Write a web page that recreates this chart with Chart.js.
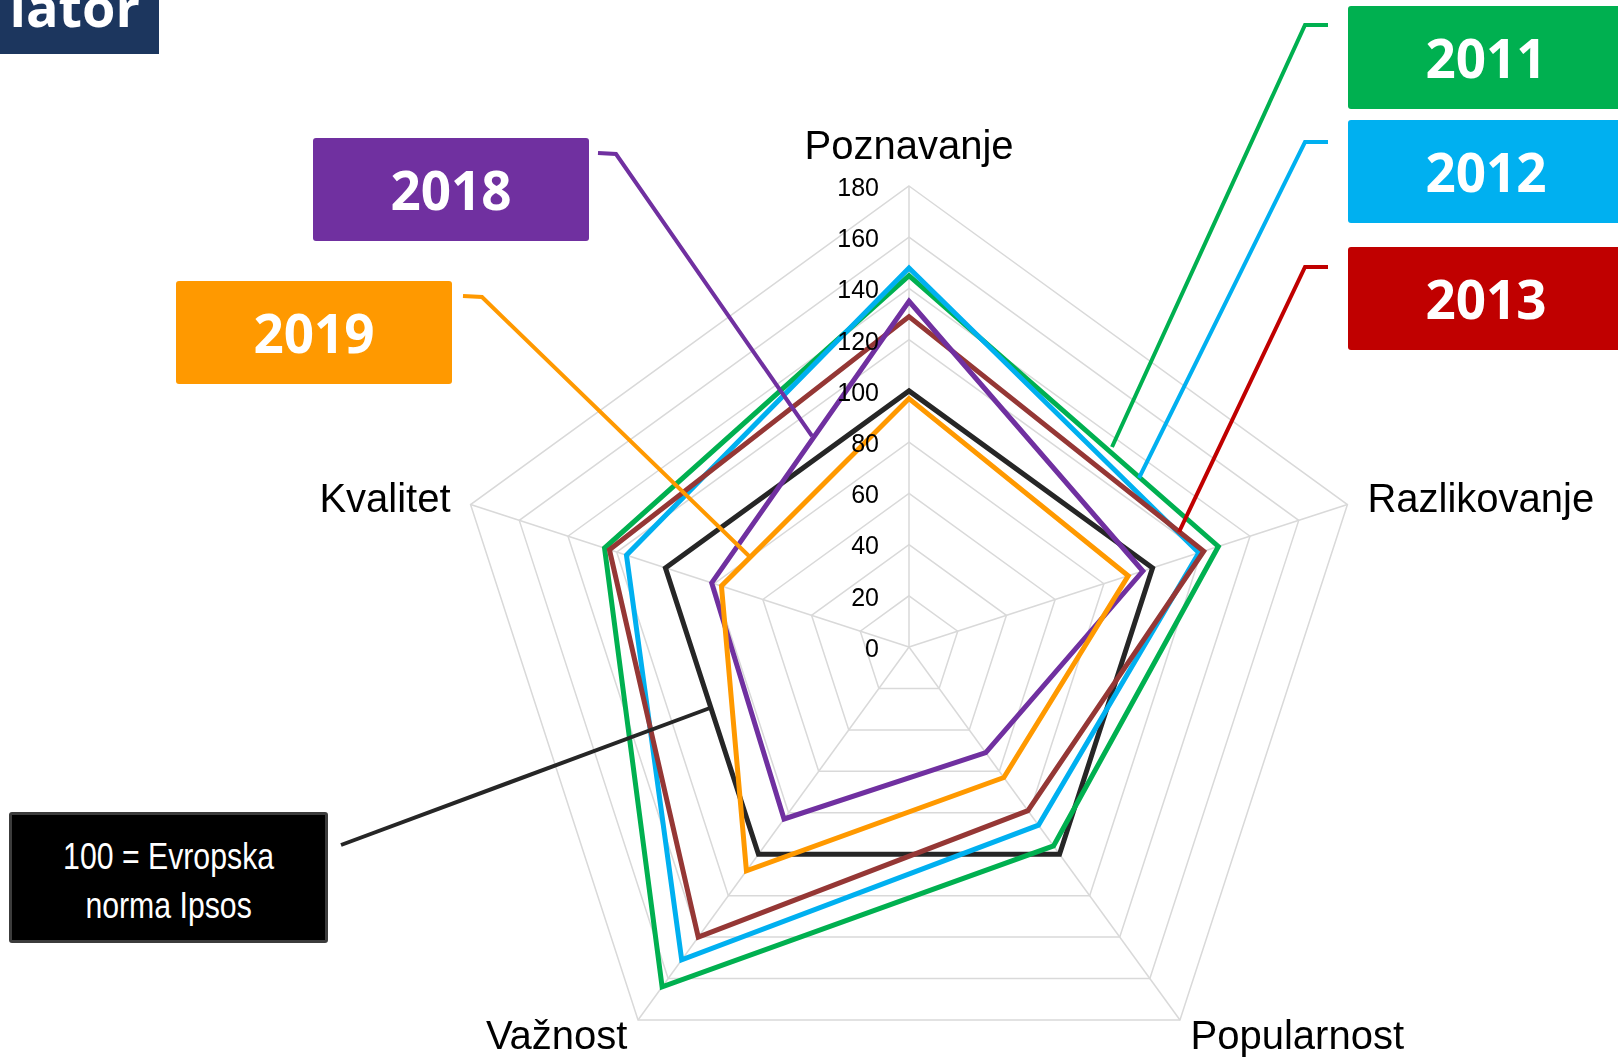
<!DOCTYPE html>
<html>
<head>
<meta charset="utf-8">
<title>Radar</title>
<script src="https://cdn.jsdelivr.net/npm/chart.js@4.4.1/dist/chart.umd.min.js"></script>
<style>
  html, body { margin: 0; padding: 0; width: 1618px; height: 1057px; overflow: hidden; background: #fff; }
  #wrap { position: absolute; left: 0; top: 0; width: 1618px; height: 1130px; }
  .tag {
    position: absolute; width: 276px; height: 103px; border-radius: 3px;
    display: flex; align-items: center; justify-content: center;
    color: #fff; font-family: 'Open Sans', sans-serif; font-weight: 700; font-size: 53px;
  }
  #title {
    position: absolute; left: 0; top: 0; width: 159px; height: 54px;
    background: #1c365e; overflow: hidden;
  }
  #title span {
    position: absolute; right: 19px; top: -21px; line-height: 54px;
    color: #fff; font-family: 'Open Sans', sans-serif; font-weight: 700; font-size: 54px;
  }
  #note {
    position: absolute; left: 9px; top: 812px; width: 319px; height: 131px;
    box-sizing: border-box; padding-top: 6px;
    background: #000; border: 3px solid #3c3c3c; border-radius: 3px;
    display: flex; align-items: center; justify-content: center; text-align: center;
  }
  #note span {
    display: inline-block; transform: scaleX(0.84);
    color: #fff; font-family: 'Liberation Sans', Arial, sans-serif; font-size: 36px; line-height: 49px;
    white-space: nowrap;
  }
  svg { position: absolute; left: 0; top: 0; }
</style>
</head>
<body>
<div id="wrap"><canvas id="radar"></canvas></div>

<div id="title"><span>lator</span></div>

<div class="tag" style="left:1348px; top:6px; background:#00b050;">2011</div>
<div class="tag" style="left:1348px; top:120px; background:#00b0f0;">2012</div>
<div class="tag" style="left:1348px; top:247px; background:#c00000;">2013</div>
<div class="tag" style="left:313px; top:138px; background:#7030a0;">2018</div>
<div class="tag" style="left:176px; top:281px; background:#ff9900;">2019</div>

<div id="note"><span>100 = Evropska<br>norma Ipsos</span></div>

<svg width="1618" height="1057">
  <g fill="none" stroke-width="4" stroke-linejoin="miter">
    <polyline points="1328,25 1305,25 1112,447" stroke="#00b050"/>
    <polyline points="1328,142 1305,142 1139,478" stroke="#00b0f0"/>
    <polyline points="1328,267 1305,267 1179,532" stroke="#c00000"/>
    <polyline points="598,153 616,154 812,436" stroke="#7030a0"/>
    <polyline points="463,296 482,297 750,557" stroke="#ff9900"/>
    <polyline points="341,845 710,708" stroke="#262626"/>
  </g>
</svg>

<script>
// Data
const categories = ['Poznavanje', 'Razlikovanje', 'Popularnost', 'Važnost', 'Kvalitet'];
const tickValues = [0, 20, 40, 60, 80, 100, 120, 140, 160, 180];

const norm = [100, 100, 100, 100, 100];
const y2011 = [145, 127, 96, 164, 125];
const y2012 = [148, 119, 86, 151, 116];
const y2013 = [129, 121, 79, 140, 123];
const y2018 = [135, 96, 51, 83, 81];
const y2019 = [97, 90, 63, 108, 77];

const seriesNames = ['Norma', '2011', '2012', '2013', '2018', '2019'];
const seriesData = [norm, y2011, y2012, y2013, y2018, y2019];
const seriesColors = ['#262626', '#00b050', '#00b0f0', '#953735', '#7030a0', '#ff9900'];

const labelFont = '"Liberation Sans", Arial, sans-serif';

// tick labels and category names drawn from the radial scale positions
const radarText = {
  id: 'radarText',
  afterDatasetsDraw(chart) {
    const scale = chart.scales.r;
    const ctx = chart.ctx;
    ctx.save();
    ctx.fillStyle = '#000';

    ctx.font = '25px ' + labelFont;
    ctx.textAlign = 'right';
    ctx.textBaseline = 'middle';
    tickValues.forEach(v => {
      const y = scale.yCenter - scale.getDistanceFromCenterForValue(v);
      ctx.fillText(String(v), scale.xCenter - 30, y + 3);
    });

    ctx.font = '40px ' + labelFont;
    categories.forEach((name, i) => {
      const probe = scale.getPointPosition(i, scale.drawingArea);
      const dx = probe.x - scale.xCenter;
      const dy = probe.y - scale.yCenter;
      if (Math.abs(dx) < 1) {
        const p = scale.getPointPosition(i, scale.drawingArea + 27);
        ctx.textAlign = 'center';
        ctx.textBaseline = 'alphabetic';
        ctx.fillText(name, p.x, p.y);
        return;
      }
      const p = scale.getPointPosition(i, scale.drawingArea + (dy > 0 ? 18 : 21));
      ctx.textAlign = dx > 0 ? 'left' : 'right';
      ctx.textBaseline = 'middle';
      ctx.fillText(name, p.x, p.y + 3);
    });
    ctx.restore();
  }
};

new Chart(document.getElementById('radar'), {
  type: 'radar',
  data: {
    labels: categories,
    datasets: seriesData.map((data, i) => ({
      label: seriesNames[i],
      data: data,
      borderColor: seriesColors[i],
      backgroundColor: seriesColors[i],
      borderWidth: 5,
      borderJoinStyle: 'miter',
      pointRadius: 0,
      pointHoverRadius: 0,
      fill: false,
      tension: 0,
      order: seriesData.length - i
    }))
  },
  options: {
    responsive: true,
    maintainAspectRatio: false,
    animation: false,
    layout: { padding: { left: 448, right: 248, top: 186, bottom: 22 } },
    plugins: {
      legend: { display: false },
      tooltip: { enabled: false }
    },
    scales: {
      r: {
        min: 0,
        max: 180,
        ticks: { stepSize: 20, display: false },
        pointLabels: { display: false },
        grid: { color: '#d9d9d9', lineWidth: 1.5 },
        angleLines: { color: '#d9d9d9', lineWidth: 1.5 }
      }
    }
  },
  plugins: [radarText]
});
</script>
</body>
</html>
